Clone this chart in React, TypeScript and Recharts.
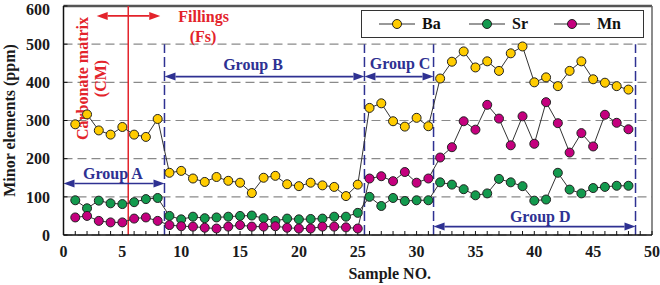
import React from 'react'
import {
  LineChart,
  Line,
  XAxis,
  YAxis,
  CartesianGrid,
  ReferenceLine,
  ReferenceDot,
  Label,
} from 'recharts'

const sampleNo = [
  1, 2, 3, 4, 5, 6, 7, 8, 9, 10, 11, 12, 13, 14, 15, 16, 17, 18, 19, 20, 21, 22, 23, 24,
  25, 26, 27, 28, 29, 30, 31, 32, 33, 34, 35, 36, 37, 38, 39, 40, 41, 42, 43, 44, 45, 46, 47, 48,
]
const ba = [
  290, 316, 274, 263, 283, 263, 257, 304, 163, 168, 148, 139, 152, 142, 137, 110, 150, 155, 133, 128,
  137, 130, 126, 102, 132, 333, 345, 298, 284, 307, 285, 410, 454, 481, 439, 455, 430, 476, 494, 400,
  413, 390, 430, 455, 408, 399, 390, 381,
]
const sr = [
  91, 70, 90, 83, 81, 86, 94, 97, 50, 41, 48, 44, 46, 48, 50, 51, 44, 37, 43, 41, 42, 43, 48, 48,
  58, 100, 76, 97, 89, 91, 91, 138, 132, 120, 104, 109, 147, 138, 128, 90, 93, 163, 119, 109, 123, 126,
  129, 129,
]
const mn = [
  46, 50, 37, 33, 33, 43, 46, 37, 26, 23, 22, 19, 17, 22, 26, 22, 22, 23, 19, 17, 17, 22, 22, 20,
  17, 148, 154, 141, 165, 137, 148, 203, 230, 298, 276, 341, 305, 235, 311, 239, 348, 293, 216, 267,
  232, 315, 294, 277,
]
const xTicks = [0, 1, 2, 3, 4, 5, 6, 7, 8, 9, 10, 11, 12, 13, 14, 15, 16, 17, 18, 19, 20, 21, 22, 23, 24, 25,
  26, 27, 28, 29, 30, 31, 32, 33, 34, 35, 36, 37, 38, 39, 40, 41, 42, 43, 44, 45, 46, 47, 48, 49, 50]
const yTicks = [0, 100, 200, 300, 400, 500, 600]

// group boundaries (sample no.) and where the arrows / labels sit
const groupEdges = [8.58, 25.57, 31.44, 48.6]
const groups = [
  { name: 'Group A', from: 0, to: 8.58, arrowY: 135, textX: 4.2, textY: 162 },
  { name: 'Group B', from: 8.58, to: 25.57, arrowY: 415, textX: 16.1, textY: 448 },
  { name: 'Group C', from: 25.57, to: 31.44, arrowY: 415, textX: 28.6, textY: 450 },
  { name: 'Group D', from: 31.44, to: 48.6, arrowY: 22, textX: 40.5, textY: 48 },
]

const series = [
  { key: 'Ba', color: '#FFCC00' },
  { key: 'Sr', color: '#139A4E' },
  { key: 'Mn', color: '#C4007E' },
]

const data = sampleNo.map((n, i) => ({ x: n, Ba: ba[i], Sr: sr[i], Mn: mn[i] }))

const FONT = '"Liberation Serif", "Times New Roman", serif'
const BLUE = '#2E3192'
const RED = '#E3232B'

const DoubleArrow = (color: string) => (p: any) => {
  const { x1, y1, x2, y2 } = p
  const len = 11
  const hw = 4
  return (
    <g>
      <line x1={x1 + len} y1={y1} x2={x2 - len} y2={y2} stroke={color} strokeWidth={1.6} />
      <polygon points={`${x1},${y1} ${x1 + len},${y1 - hw} ${x1 + len},${y1 + hw}`} fill={color} />
      <polygon points={`${x2},${y2} ${x2 - len},${y2 - hw} ${x2 - len},${y2 + hw}`} fill={color} />
    </g>
  )
}

const note = (text: string, color: string, rotate = false) => (p: any) => (
  <text
    x={p.cx}
    y={p.cy}
    fill={color}
    fontFamily={FONT}
    fontWeight="bold"
    fontSize={16}
    textAnchor="middle"
    dominantBaseline="central"
    transform={rotate ? `rotate(-90 ${p.cx} ${p.cy})` : undefined}
  >
    {text}
  </text>
)

function LegendBox() {
  const pos = [17, 107, 192]
  return (
    <div
      style={{
        position: 'absolute',
        left: 361,
        top: 10,
        width: 281,
        height: 26,
        border: '1px solid #333',
        background: '#fff',
        fontFamily: FONT,
        fontWeight: 'bold',
        fontSize: 16,
      }}
    >
      {series.map((s, i) => (
        <div key={s.key} style={{ position: 'absolute', left: pos[i], top: 0, height: 26, display: 'flex', alignItems: 'center' }}>
          <svg width={36} height={12}>
            <line x1={0} y1={6} x2={36} y2={6} stroke="#333" strokeWidth={1} />
            <circle cx={18} cy={6} r={4.5} fill={s.color} stroke="#222" strokeWidth={1} />
          </svg>
          <span style={{ marginLeft: 7, color: '#111' }}>{s.key}</span>
        </div>
      ))}
    </div>
  )
}

export default function App() {
  return (
    <div style={{ position: 'absolute', left: 0, top: 0, width: 660, height: 285, background: '#fff' }}>
      <LineChart width={660} height={285} data={data} margin={{ top: 6, right: 8, bottom: 20, left: 0 }}>
        <CartesianGrid vertical={false} stroke="#8a8a8a" strokeDasharray="9 5" strokeWidth={1.2} />
        <XAxis
          type="number"
          dataKey="x"
          domain={[0, 50]}
          ticks={xTicks}
          interval={0}
          height={30}
          tickSize={-4}
          tickMargin={15}
          tickFormatter={(v: number) => (v % 5 === 0 ? String(v) : '')}
          axisLine={{ stroke: '#111', strokeWidth: 1.5 }}
          tickLine={{ stroke: '#111' }}
          tick={{ fontFamily: FONT, fontWeight: 'bold', fontSize: 16, fill: '#1a1a1a' }}
        >
          <Label
            value="Sample NO."
            position="bottom"
            offset={3}
            dx={32}
            style={{ fontFamily: FONT, fontWeight: 'bold', fontSize: 16, fill: '#1a1a1a' }}
          />
        </XAxis>
        <YAxis
          domain={[0, 600]}
          ticks={yTicks}
          width={63.5}
          tickSize={-4}
          tickMargin={17.5}
          axisLine={{ stroke: '#111', strokeWidth: 1.5 }}
          tickLine={{ stroke: '#111' }}
          tick={{ fontFamily: FONT, fontWeight: 'bold', fontSize: 16, fill: '#1a1a1a' }}
        >
          <Label
            value="Minor elements (ppm)"
            angle={-90}
            position="center"
            dx={-22}
            style={{ fontFamily: FONT, fontWeight: 'bold', fontSize: 16, fill: '#1a1a1a', textAnchor: 'middle' }}
          />
        </YAxis>

        <ReferenceLine y={600} stroke="#555" strokeWidth={2.5} />
        <ReferenceLine x={50} stroke="#666" strokeWidth={1.5} />
        <ReferenceLine x={5.5} stroke={RED} strokeWidth={1.5} />
        {groupEdges.map((gx) => (
          <ReferenceLine
            key={gx}
            segment={[{ x: gx, y: 0 }, { x: gx, y: 500 }]}
            stroke={BLUE}
            strokeWidth={1.5}
            strokeDasharray="10 4"
          />
        ))}
        {groups.map((g) => (
          <ReferenceLine
            key={g.name}
            segment={[{ x: g.from, y: g.arrowY }, { x: g.to, y: g.arrowY }]}
            shape={DoubleArrow(BLUE)}
          />
        ))}
        {groups.map((g) => (
          <ReferenceDot key={g.name + '-t'} x={g.textX} y={g.textY} r={0} shape={note(g.name, BLUE)} />
        ))}
        <ReferenceLine segment={[{ x: 2.82, y: 574 }, { x: 8.22, y: 574 }]} shape={DoubleArrow(RED)} />
        <ReferenceDot x={11.9} y={573} r={0} shape={note('Fillings', RED)} />
        <ReferenceDot x={11.85} y={521} r={0} shape={note('(Fs)', RED)} />
        <ReferenceDot x={1.59} y={410} r={0} shape={note('Carbonate matrix', RED, true)} />
        <ReferenceDot x={3.12} y={410} r={0} shape={note('(CM)', RED, true)} />

        {series.map((s) => (
          <Line
            key={s.key}
            dataKey={s.key}
            stroke="#333"
            strokeWidth={1}
            dot={{ r: 4.5, fill: s.color, stroke: '#222', strokeWidth: 1 }}
            activeDot={false}
            isAnimationActive={false}
          />
        ))}
      </LineChart>
      <LegendBox />
    </div>
  )
}
